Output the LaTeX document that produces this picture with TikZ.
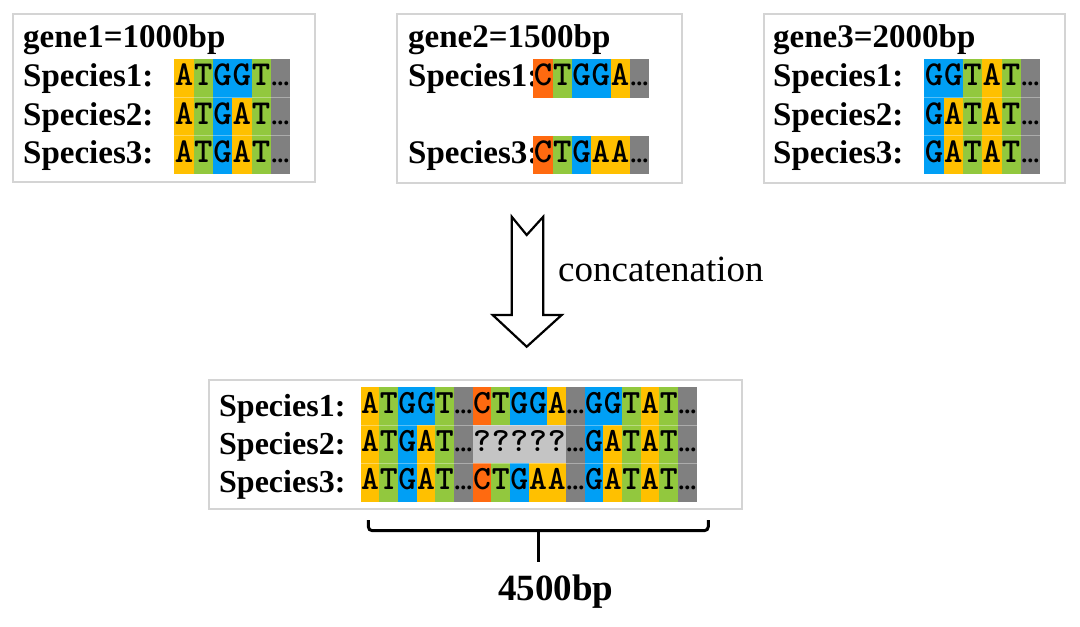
\documentclass[tikz,border=0pt]{standalone}
\usepackage{fontspec}
\setmainfont{Liberation Serif}
\newfontfamily\monof{lmmonolt10-bold.otf}
\definecolor{cA}{HTML}{FFC000}
\definecolor{cT}{HTML}{92C83E}
\definecolor{cG}{HTML}{009FF5}
\definecolor{cC}{HTML}{FF6A10}
\definecolor{cX}{HTML}{808080}
\definecolor{cQ}{HTML}{C4C4C4}
\definecolor{boxgray}{HTML}{D4D4D4}
\newcommand\dd{{\rmfamily\bfseries\fontsize{24}{24}\selectfont...}}
\newcommand\seqrow[5]{%
  \foreach \L/\C [count=\i] in {#5} {
    \node[cell, fill=\C, minimum width=#4] (#1-\i) at ({#2+(\i-1)*#4},#3) {\L};
  }}
\begin{document}
\begin{tikzpicture}[x=1pt,y=-1pt,
  cell/.style={inner sep=0, outer sep=0, minimum height=38.3, text height=22, text depth=7,
    anchor=north west, font=\monof\fontsize{35}{35}\selectfont},
  lab/.style={inner sep=0, anchor=base west, font=\bfseries\fontsize{33}{38}\selectfont},
  box/.style={draw=boxgray, line width=1.5, inner sep=0, anchor=north west},
  sep/.style={draw=white, opacity=0.35, line width=1}]
\useasboundingbox (0,0) rectangle (1080,627);

% boxes
\node[box, minimum width=302, minimum height=168] (b1) at (12,13) {};
\node[box, minimum width=285, minimum height=169] (b2) at (396,13) {};
\node[box, minimum width=301, minimum height=169] (b3) at (763,13) {};
\node[box, minimum width=533, minimum height=129] (b4) at (208,379) {};

% gene1
\node[lab] (g1) at (23,47) {gene1=1000bp};
\node[lab] (g1s1) at (23,86.5) {Species1:};
\node[lab] (g1s2) at (23,125) {Species2:};
\node[lab] (g1s3) at (23,163.5) {Species3:};
\seqrow{a1}{174.3}{59.3}{19.3}{A/cA,T/cT,G/cG,G/cG,T/cT,\dd/cX}
\seqrow{a2}{174.3}{97.6}{19.3}{A/cA,T/cT,G/cG,A/cA,T/cT,\dd/cX}
\seqrow{a3}{174.3}{135.9}{19.3}{A/cA,T/cT,G/cG,A/cA,T/cT,\dd/cX}
\draw[sep] (a2-1.north west) -- (a2-6.north east);
\draw[sep] (a3-1.north west) -- (a3-6.north east);

% gene2
\node[lab] (g2) at (408,47) {gene2=1500bp};
\node[lab] (g2s1) at (408,86.5) {Species1:};
\node[lab] (g2s3) at (408,163.5) {Species3:};
\seqrow{b1r}{533.3}{59.3}{19.3}{C/cC,T/cT,G/cG,G/cG,A/cA,\dd/cX}
\seqrow{b3r}{533.3}{135.9}{19.3}{C/cC,T/cT,G/cG,A/cA,A/cA,\dd/cX}

% gene3
\node[lab] (g3) at (773,47) {gene3=2000bp};
\node[lab] (g3s1) at (773,86.5) {Species1:};
\node[lab] (g3s2) at (773,125) {Species2:};
\node[lab] (g3s3) at (773,163.5) {Species3:};
\seqrow{c1}{924.3}{59.3}{19.3}{G/cG,G/cG,T/cT,A/cA,T/cT,\dd/cX}
\seqrow{c2}{924.3}{97.6}{19.3}{G/cG,A/cA,T/cT,A/cA,T/cT,\dd/cX}
\seqrow{c3}{924.3}{135.9}{19.3}{G/cG,A/cA,T/cT,A/cA,T/cT,\dd/cX}
\draw[sep] (c2-1.north west) -- (c2-6.north east);
\draw[sep] (c3-1.north west) -- (c3-6.north east);

% arrow
\coordinate (atop) at (526.7,235);
\coordinate (atip) at (526.7,346.7);
\draw[line width=2.2, line join=miter] (511.7,216.7) -- (atop) -- (543.3,216.7) -- (543.3,315)
  -- (561.7,315) -- (atip) -- (492.7,315) -- (511.7,315) -- cycle;
\node[inner sep=0, anchor=base west, font=\fontsize{37}{40}\selectfont] (cat) at (558,281.7) {concatenation};

% concatenated
\node[lab, font=\bfseries\fontsize{32}{38}\selectfont] (cs1) at (219,416) {Species1:};
\node[lab, font=\bfseries\fontsize{32}{38}\selectfont] (cs2) at (219,454.3) {Species2:};
\node[lab, font=\bfseries\fontsize{32}{38}\selectfont] (cs3) at (219,492.6) {Species3:};
\tikzset{cell/.style={inner sep=0, outer sep=0, minimum height=38.3, text height=22, text depth=7,
    anchor=north west, font=\monof\fontsize{34}{34}\selectfont}}
\seqrow{d1}{360.7}{386.7}{18.67}{A/cA,T/cT,G/cG,G/cG,T/cT,\dd/cX,C/cC,T/cT,G/cG,G/cG,A/cA,\dd/cX,G/cG,G/cG,T/cT,A/cA,T/cT,\dd/cX}
\seqrow{d2}{360.7}{425}{18.67}{A/cA,T/cT,G/cG,A/cA,T/cT,\dd/cX,?/cQ,?/cQ,?/cQ,?/cQ,?/cQ,\dd/cX,G/cG,A/cA,T/cT,A/cA,T/cT,\dd/cX}
\seqrow{d3}{360.7}{463.3}{18.67}{A/cA,T/cT,G/cG,A/cA,T/cT,\dd/cX,C/cC,T/cT,G/cG,A/cA,A/cA,\dd/cX,G/cG,A/cA,T/cT,A/cA,T/cT,\dd/cX}
\draw[sep] (d2-1.north west) -- (d2-18.north east);
\draw[sep] (d3-1.north west) -- (d3-18.north east);

% brace
\coordinate (bl) at (368.3,520);
\coordinate (br) at (708.3,520);
\coordinate (bm) at (538.3,530.7);
\coordinate (bt) at (538.3,561.7);
\draw[line width=3, rounded corners=4] (bl) -- (368.3,530.7) -- (708.3,530.7) -- (br);
\draw[line width=3] (bm) -- (bt);
\node[lab, font=\bfseries\fontsize{37}{40}\selectfont] (total) at (498,600) {4500bp};
\end{tikzpicture}
\end{document}
